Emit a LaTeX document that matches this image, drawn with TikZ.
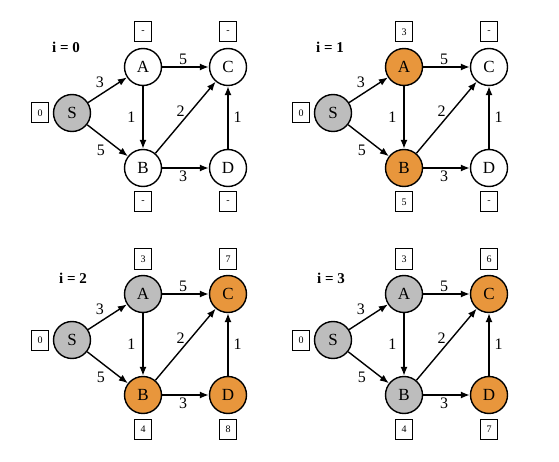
\documentclass[tikz,border=0pt]{standalone}
\usepackage{fontspec}
\setmainfont{Liberation Serif}
\usetikzlibrary{arrows.meta,positioning}
\definecolor{orng}{HTML}{E8963C}
\definecolor{gry}{HTML}{BDBDBD}
\tikzset{
  vert/.style={circle,draw,line width=1.4pt,minimum size=37pt,inner sep=0pt,font=\fontsize{17}{17}\selectfont,fill=white},
  vgray/.style={vert,fill=gry},
  vorng/.style={vert,fill=orng},
  dbox/.style={draw,line width=1pt,minimum width=17pt,minimum height=20pt,inner sep=0pt,font=\fontsize{10}{10}\selectfont},
  ilab/.style={font=\bfseries\fontsize{15}{15}\selectfont},
  elab/.style={font=\fontsize{16}{16}\selectfont,inner sep=1pt},
  arr/.style={line width=1.4pt,-{Latex[length=9pt,width=7pt]}}
}
\newcommand\edgesof[1]{%
  \draw[arr] (#1S) -- node[elab,above left=2pt and 0pt,pos=0.45] {3} (#1A);
  \draw[arr] (#1S) -- node[elab,below left=3pt and 1pt,pos=0.5] {5} (#1B);
  \draw[arr] (#1A) -- node[elab,left=6pt] {1} (#1B);
  \draw[arr] (#1A) -- node[elab,above=1pt,pos=0.45] {5} (#1C);
  \draw[arr] (#1B) -- node[elab,above left=1pt and -2pt,pos=0.48] {2} (#1C);
  \draw[arr] (#1B) -- node[elab,below=1pt,pos=0.45] {3} (#1D);
  \draw[arr] (#1D) -- node[elab,right=4pt] {1} (#1C);
}
\begin{document}
\begin{tikzpicture}[x=1pt,y=-1pt]
\useasboundingbox (0,0) rectangle (559,462);
% panel 0
\begin{scope}
\node[vgray] (pS) at (72,113) {S};
\node[vert] (pA) at (143,67) {A};
\node[vert] (pC) at (228,67) {C};
\node[vert] (pB) at (143,168) {B};
\node[vert] (pD) at (228,168) {D};
\node[ilab] (pI) at (66,47) {i = 0};
\node[dbox] (pdS) at (40,113) {0};
\node[dbox] (pdA) at (143,32) {-};
\node[dbox] (pdC) at (228,32) {-};
\node[dbox] (pdB) at (143,202) {-};
\node[dbox] (pdD) at (228,202) {-};
\edgesof{p}
\end{scope}
% panel 1
\begin{scope}[shift={(261,0)}]
\node[vgray] (qS) at (72,113) {S};
\node[vorng] (qA) at (143,67) {A};
\node[vert] (qC) at (228,67) {C};
\node[vorng] (qB) at (143,168) {B};
\node[vert] (qD) at (228,168) {D};
\node[ilab] (qI) at (69,47) {i = 1};
\node[dbox] (qdS) at (40,113) {0};
\node[dbox] (qdA) at (143,32) {3};
\node[dbox] (qdC) at (228,32) {-};
\node[dbox] (qdB) at (143,202) {5};
\node[dbox] (qdD) at (228,202) {-};
\edgesof{q}
\end{scope}
% panel 2
\begin{scope}[shift={(0,227)}]
\node[vgray] (rS) at (72,113) {S};
\node[vgray] (rA) at (143,67) {A};
\node[vorng] (rC) at (228,67) {C};
\node[vorng] (rB) at (143,168) {B};
\node[vorng] (rD) at (228,168) {D};
\node[ilab] (rI) at (73,51) {i = 2};
\node[dbox] (rdS) at (40,113) {0};
\node[dbox] (rdA) at (143,32) {3};
\node[dbox] (rdC) at (228,32) {7};
\node[dbox] (rdB) at (143,202) {4};
\node[dbox] (rdD) at (228,202) {8};
\edgesof{r}
\end{scope}
% panel 3
\begin{scope}[shift={(261,227)}]
\node[vgray] (tS) at (72,113) {S};
\node[vgray] (tA) at (143,67) {A};
\node[vorng] (tC) at (228,67) {C};
\node[vgray] (tB) at (143,168) {B};
\node[vorng] (tD) at (228,168) {D};
\node[ilab] (tI) at (70,51) {i = 3};
\node[dbox] (tdS) at (40,113) {0};
\node[dbox] (tdA) at (143,32) {3};
\node[dbox] (tdC) at (228,32) {6};
\node[dbox] (tdB) at (143,202) {4};
\node[dbox] (tdD) at (228,202) {7};
\edgesof{t}
\end{scope}
\end{tikzpicture}
\end{document}
